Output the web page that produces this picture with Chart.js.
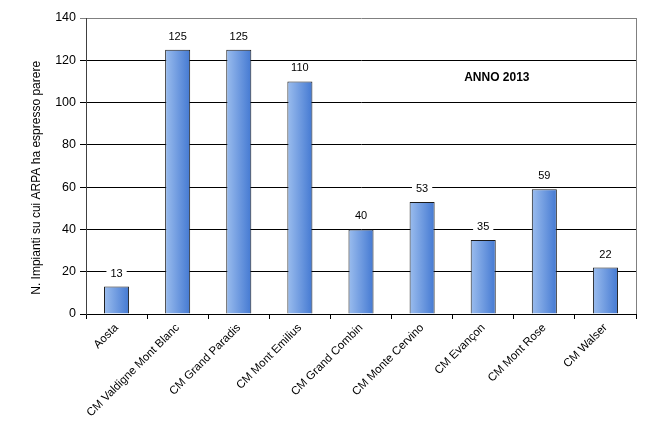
<!DOCTYPE html>
<html><head><meta charset="utf-8">
<script src="https://cdn.jsdelivr.net/npm/chart.js@4"></script>
<style>html,body{margin:0;padding:0;background:#fff}#wrap{width:653px;height:430px}</style>
</head><body><div id="wrap"><canvas id="c"></canvas></div>
<script>
const categories = ["Aosta","CM Valdigne Mont Blanc","CM Grand Paradis","CM Mont Emilius","CM Grand Combin","CM Monte Cervino","CM Evançon","CM Mont Rose","CM Walser"];
const values = [13,125,125,110,40,53,35,59,22];
const yTitle = "N. Impianti su cui ARPA ha espresso parere";
const annotationText = "ANNO 2013";
const yMin = 0, yMax = 140, yStep = 20;

function barGradient(ctx){
  const chart = ctx.chart;
  const xs = chart.scales && chart.scales.x;
  if(!chart.chartArea || !xs) return '#6f9be0';
  const cx = xs.getPixelForValue(ctx.dataIndex);
  const w = xs.width / categories.length * 0.41;
  const g = chart.ctx.createLinearGradient(cx - w/2, 0, cx + w/2, 0);
  g.addColorStop(0, '#9bbdee');
  g.addColorStop(1, '#4479d2');
  return g;
}

const labelsPlugin = {
  id:'valLabels',
  beforeDatasetsDraw(chart){
    const {ctx, chartArea} = chart;
    ctx.save();
    ctx.strokeStyle = '#808080';
    ctx.lineWidth = 1;
    ctx.beginPath();
    ctx.moveTo(Math.round(chartArea.right)+0.5, chartArea.top);
    ctx.lineTo(Math.round(chartArea.right)+0.5, chartArea.bottom);
    ctx.stroke();
    // y axis title
    ctx.translate(chartArea.left - 49, chartArea.top + chartArea.height*0.54);
    ctx.rotate(-Math.PI/2);
    ctx.font = '12px "Liberation Sans", Arial, sans-serif';
    ctx.fillStyle = '#000';
    ctx.textAlign = 'center';
    ctx.textBaseline = 'middle';
    ctx.fillText(yTitle, 0, 0);
    ctx.restore();
  },
  afterDatasetsDraw(chart){
    const {ctx, chartArea} = chart;
    const meta = chart.getDatasetMeta(0);
    ctx.save();
    ctx.font = '11px "Liberation Sans", Arial, sans-serif';
    ctx.textAlign = 'center';
    ctx.textBaseline = 'middle';
    meta.data.forEach((el, i) => {
      const t = String(values[i]);
      const w = ctx.measureText(t).width + 8;
      const y = el.y - 13;
      ctx.fillStyle = '#fff';
      ctx.fillRect(el.x - w/2, y - 6, w, 12);
      ctx.fillStyle = '#000';
      ctx.fillText(t, el.x, y);
    });
    ctx.font = 'bold 12px "Liberation Sans", Arial, sans-serif';
    ctx.fillText(annotationText, chartArea.left + chartArea.width*0.747, chartArea.top + chartArea.height*0.2);
    ctx.restore();
  }
};

new Chart(document.getElementById('c'), {
  type:'bar',
  data:{labels:categories, datasets:[{data:values, backgroundColor:barGradient, borderColor:'#1a1a1a', borderWidth:1, barPercentage:0.82, categoryPercentage:0.5}]},
  options:{
    responsive:true, maintainAspectRatio:false, animation:false,
    devicePixelRatio:1,
    layout:{padding:{left:0, top:18, right:17, bottom:0}},
    plugins:{legend:{display:false}, tooltip:{enabled:false}},
    scales:{
      x:{
        grid:{drawOnChartArea:false, drawTicks:true, tickLength:5, color:'#000', offset:true},
        border:{color:'#000'},
        ticks:{color:'#000', font:{family:'"Liberation Sans", Arial, sans-serif', size:11.5}, minRotation:45, maxRotation:45, autoSkip:false, padding:2},
        afterFit(s){ s.height = 116; }
      },
      y:{
        min:yMin, max:yMax,
        grid:{color:(c)=> (c.tick && c.tick.value===yMax) ? '#808080' : '#000', tickLength:6},
        border:{color:'#404040'},
        ticks:{stepSize:yStep, color:'#000', padding:4, font:{family:'"Liberation Sans", Arial, sans-serif', size:12.5}},
        afterFit(s){ s.width = 86; }
      }
    }
  },
  plugins:[labelsPlugin]
});
</script></body></html>
